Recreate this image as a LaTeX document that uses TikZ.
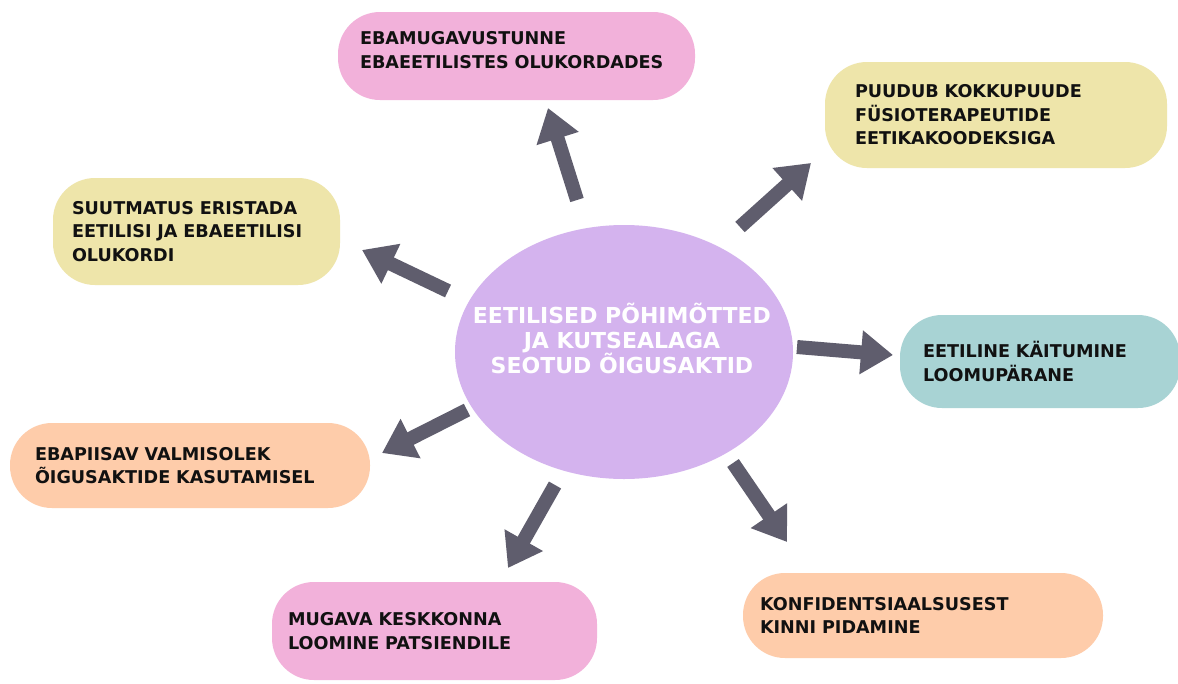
\documentclass[tikz,border=0pt]{standalone}
\usepackage{fontspec}
\setmainfont{DejaVu Sans}
\usetikzlibrary{arrows.meta,shapes.geometric}

\definecolor{hubfill}{HTML}{D4B3EE}
\definecolor{pinkfill}{HTML}{F2B1DA}
\definecolor{yellowfill}{HTML}{EEE5AA}
\definecolor{tealfill}{HTML}{A8D3D4}
\definecolor{orangefill}{HTML}{FECCAA}
\definecolor{arrowgray}{HTML}{5F5D6D}
\definecolor{inktext}{HTML}{111111}

\tikzset{
  box/.style={rectangle, rounded corners=42pt, inner ysep=0pt, align=left,
    text=inktext, font=\fontsize{17.6}{23.5}\selectfont\bfseries},
  hubshape/.style={ellipse, fill=hubfill, inner sep=0pt,
    minimum width=338pt, minimum height=254pt},
  hubtext/.style={align=center, text=white, inner sep=0pt,
    font=\fontsize{22}{25}\selectfont\bfseries},
  spoke/.style={draw=arrowgray, line width=14pt,
    -{Triangle[width=42pt,length=32pt]}}
}

\begin{document}
\begin{tikzpicture}[x=1pt,y=-1pt]
\useasboundingbox (0,0) rectangle (1178,683);
\fill[white] (0,0) rectangle (1178,683);

% central topic
\node[hubshape] (hub) at (624,352) {};
\node[hubtext] (hubt) at (622,338)
  {EETILISED PÕHIMÕTTED\\JA KUTSEALAGA\\SEOTUD ÕIGUSAKTID};

% surrounding statements
\node[box, fill=pinkfill, minimum width=357pt, minimum height=88pt,
  inner xsep=22pt, text width=313pt] (b1) at (516.5,56)
  {EBAMUGAVUSTUNNE\\EBAEETILISTES OLUKORDADES\rule[-12pt]{0pt}{12pt}};
\node[box, fill=yellowfill, minimum width=342pt, minimum height=106pt,
  inner xsep=30pt, text width=282pt] (b2) at (996,115)
  {PUUDUB KOKKUPUUDE\\FÜSIOTERAPEUTIDE\\EETIKAKOODEKSIGA};
\node[box, fill=yellowfill, minimum width=287pt, minimum height=107pt,
  inner xsep=19pt, text width=249pt] (b3) at (196.5,231.5)
  {SUUTMATUS ERISTADA\\EETILISI JA EBAEETILISI\\OLUKORDI};
\node[box, fill=tealfill, minimum width=280pt, minimum height=93pt,
  inner xsep=23pt, text width=234pt] (b4) at (1040,361.5)
  {EETILINE KÄITUMINE\\LOOMUPÄRANE};
\node[box, fill=orangefill, minimum width=360pt, minimum height=85pt,
  inner xsep=25pt, text width=310pt] (b5) at (190,465.5)
  {EBAPIISAV VALMISOLEK\\ÕIGUSAKTIDE KASUTAMISEL};
\node[box, fill=pinkfill, minimum width=325pt, minimum height=98pt,
  inner xsep=16pt, text width=293pt] (b6) at (434.5,631)
  {MUGAVA KESKKONNA\\LOOMINE PATSIENDILE};
\node[box, fill=orangefill, minimum width=360pt, minimum height=85pt,
  inner xsep=17pt, text width=326pt] (b7) at (923,615.5)
  {KONFIDENTSIAALSUSEST\\KINNI PIDAMINE};

% spoke ends
\coordinate (s1) at (577,200); \coordinate (e1) at (548,108);
\coordinate (s2) at (740,227); \coordinate (e2) at (811,163);
\coordinate (s3) at (448,291); \coordinate (e3) at (362,250);
\coordinate (s4) at (797,347); \coordinate (e4) at (893,355);
\coordinate (s5) at (467,410); \coordinate (e5) at (382,453);
\coordinate (s6) at (555,485); \coordinate (e6) at (508,568);
\coordinate (s7) at (733,463); \coordinate (e7) at (787,542);

% spokes from the centre outwards
\foreach \i in {1,...,7}{
  \draw[spoke] (s\i) -- (e\i);
}
\end{tikzpicture}
\end{document}
